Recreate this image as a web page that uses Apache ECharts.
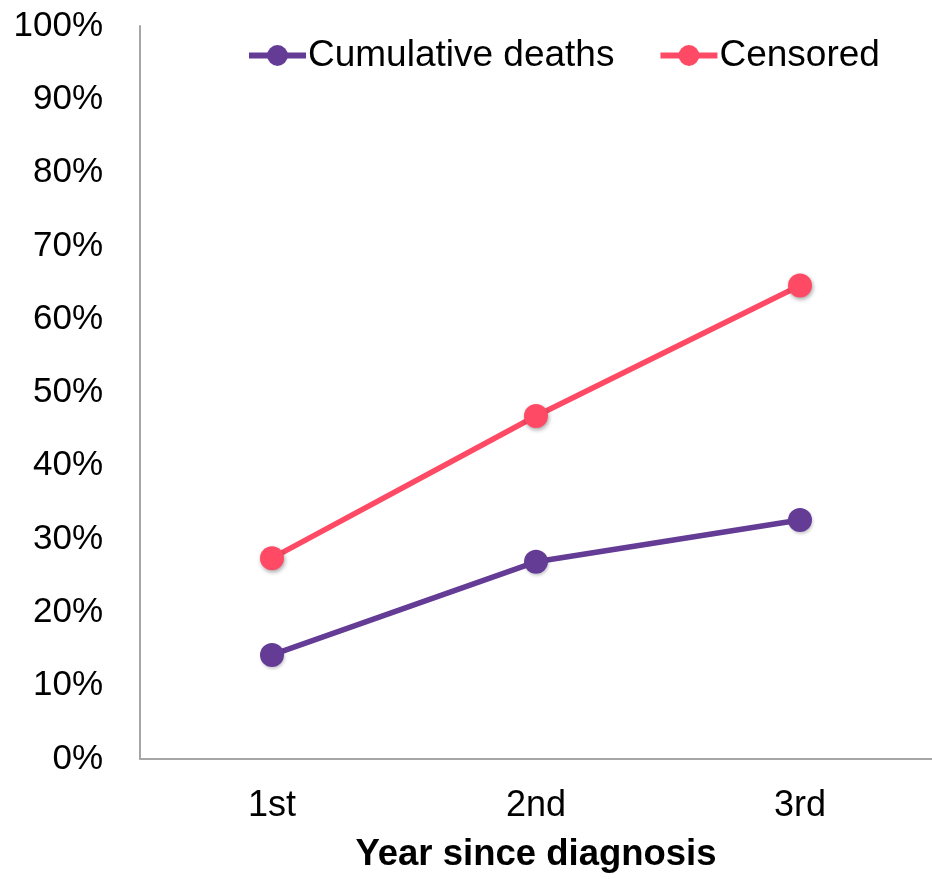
<!DOCTYPE html>
<html>
<head>
<meta charset="utf-8">
<script src="https://cdn.jsdelivr.net/npm/echarts@6/dist/echarts.min.js"></script>
<style>
  html, body { margin: 0; padding: 0; background: #fff; }
  #chart { width: 932px; height: 879px; }
</style>
</head>
<body>
<div id="chart"></div>
<script>
// Years since diagnosis and the share of patients in each group (%)
var years = ['1st', '2nd', '3rd'];
var cumulativeDeaths = [14.2, 26.9, 32.6];
var censored = [27.4, 46.8, 64.6];
var yTicks = [0, 10, 20, 30, 40, 50, 60, 70, 80, 90, 100];

var FONT = '"Liberation Sans", Arial, sans-serif';
var PURPLE = '#643C96';
var RED = '#FF4A65';

var chart = echarts.init(document.getElementById('chart'), null, { renderer: 'canvas' });

chart.setOption({
  animation: false,
  backgroundColor: '#ffffff',
  grid: { left: 140, right: 0, top: 26, bottom: 120, containLabel: false },
  legend: {
    left: 246,
    top: 37,
    padding: 0,
    itemWidth: 57,
    itemHeight: 26,
    itemGap: 43,
    lineStyle: { width: 6 },
    textStyle: { fontFamily: FONT, fontSize: 37, color: '#000', padding: [0, 0, 0, -3] },
    data: ['Cumulative deaths', 'Censored']
  },
  xAxis: {
    type: 'category',
    data: years,
    boundaryGap: true,
    axisLine: { lineStyle: { color: '#A6A6A6', width: 2 } },
    axisTick: { show: false },
    axisLabel: { fontFamily: FONT, fontSize: 36, color: '#000', margin: 29 },
    name: 'Year since diagnosis',
    nameLocation: 'middle',
    nameGap: 77,
    nameTextStyle: { fontFamily: FONT, fontSize: 36.5, fontWeight: 'bold', color: '#000' }
  },
  yAxis: {
    type: 'value',
    min: yTicks[0],
    max: yTicks[yTicks.length - 1],
    interval: yTicks[1] - yTicks[0],
    axisLine: { show: true, lineStyle: { color: '#A6A6A6', width: 2 } },
    axisTick: { show: false },
    splitLine: { show: false },
    axisLabel: {
      fontFamily: FONT, fontSize: 35, color: '#000', margin: 37,
      formatter: function (v) { return v + '%'; }
    }
  },
  series: [
    {
      name: 'Cumulative deaths',
      type: 'line',
      data: cumulativeDeaths,
      symbol: 'circle',
      symbolSize: 24,
      lineStyle: { color: PURPLE, width: 5.5 },
      itemStyle: {
        color: PURPLE,
        shadowColor: 'rgba(0,0,0,0.2)',
        shadowBlur: 3,
        shadowOffsetX: 1,
        shadowOffsetY: 2
      }
    },
    {
      name: 'Censored',
      type: 'line',
      data: censored,
      symbol: 'circle',
      symbolSize: 24,
      lineStyle: { color: RED, width: 5.5 },
      itemStyle: {
        color: RED,
        shadowColor: 'rgba(0,0,0,0.35)',
        shadowBlur: 4,
        shadowOffsetX: 1,
        shadowOffsetY: 2
      }
    }
  ]
});
</script>
</body>
</html>
